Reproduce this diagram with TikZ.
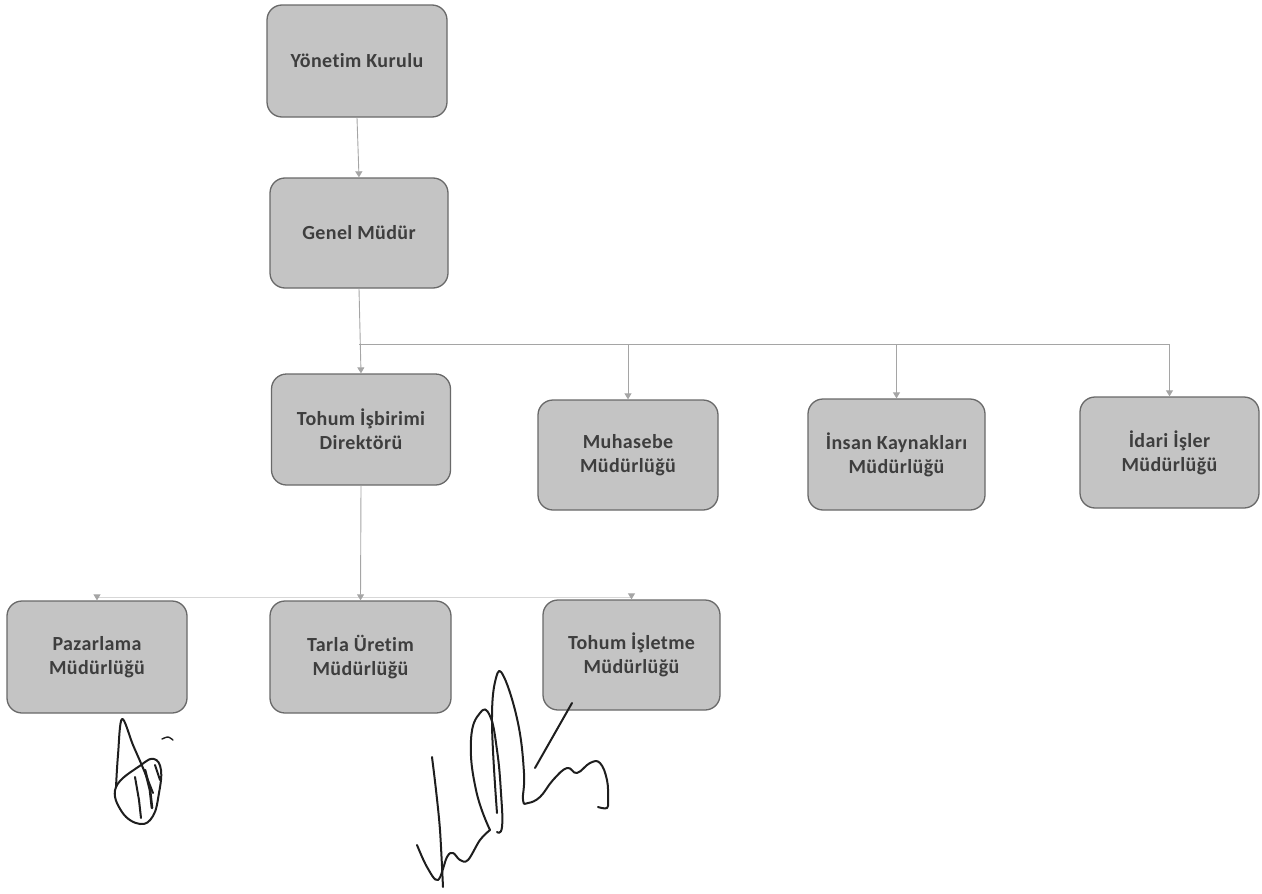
\documentclass[tikz,border=0pt]{standalone}
\usepackage{fontspec}
\setmainfont{Carlito}[Ligatures=NoCommon, LetterSpace=2]
\usetikzlibrary{arrows.meta}
\definecolor{boxfill}{RGB}{196,196,196}
\definecolor{boxdraw}{RGB}{105,105,105}
\definecolor{boxtext}{RGB}{62,62,62}
\definecolor{linecol}{RGB}{165,165,165}
\definecolor{faint}{RGB}{215,215,215}
\definecolor{ink}{RGB}{30,30,30}
\tikzset{
  orgbox/.style={draw=boxdraw, line width=1.3pt, fill=boxfill, rounded corners=15pt,
    minimum width=179pt, minimum height=111pt, inner sep=0pt, align=center,
    text=boxtext, font=\fontsize{20}{24}\selectfont\bfseries},
  conn/.style={draw=linecol, line width=0.9pt},
  arr/.style={conn, -{Triangle[width=7pt,length=6pt,fill=linecol]}},
  faintconn/.style={draw=faint, line width=0.8pt},
  sig/.style={draw=ink, line width=2pt, line cap=round, line join=round}
}
\begin{document}
\begin{tikzpicture}[x=1pt,y=-1pt]
\useasboundingbox (0,0) rectangle (1262,894);
% boxes
\node[orgbox, minimum width=180pt, minimum height=112pt] (yk) at (357,61) {Yönetim Kurulu};
\node[orgbox, minimum width=178pt, minimum height=110pt] (gm) at (359,233) {Genel Müdür};
\node[orgbox, minimum width=179pt, minimum height=111pt] (td) at (361,429.5) {Tohum İşbirimi\\Direktörü};
\node[orgbox, minimum width=180pt, minimum height=110pt] (mh) at (628,455) {Muhasebe\\Müdürlüğü};
\node[orgbox, minimum width=177pt, minimum height=111pt] (ik) at (896.5,454.5) {İnsan Kaynakları\\Müdürlüğü};
\node[orgbox, minimum width=179pt, minimum height=111pt] (ii) at (1169.5,452.5) {İdari İşler\\Müdürlüğü};
\node[orgbox, minimum width=180pt, minimum height=112pt] (pz) at (97,657) {Pazarlama\\Müdürlüğü};
\node[orgbox, minimum width=181pt, minimum height=112pt] (tu) at (360.5,657) {Tarla Üretim\\Müdürlüğü};
\node[orgbox, minimum width=177pt, minimum height=110pt] (ti) at (631.5,655) {Tohum İşletme\\Müdürlüğü};
% first level connectors
\coordinate (bus1) at (360,344);
\draw[arr] (yk.south) -- (gm.north);
\draw[arr] (gm.south) -- (td.north);
\draw[conn] (gm.south |- bus1) -- (ii.north |- bus1);
\draw[arr] (mh.north |- bus1) -- (mh.north);
\draw[arr] (ik.north |- bus1) -- (ik.north);
\draw[arr] (ii.north |- bus1) -- (ii.north);
% second level connectors
\coordinate (bus2) at (361,597);
\draw[faintconn] (pz.north |- bus2) -- (ti.north |- bus2);
\draw[arr] (td.south) -- (tu.north);
\draw[arr] (pz.north |- bus2) -- (pz.north);
\draw[arr] (ti.north |- bus2) -- (ti.north);
% signature 1
\draw[sig] plot[smooth, tension=0.6] coordinates {(116,787) (118,755) (122,719) (133,745) (143,768) (153,793)};
\draw[sig] plot[smooth cycle, tension=0.7] coordinates {(116,787) (122,812) (140,824) (153,816) (159,793) (161,770) (154,759) (141,765)};
\draw[sig] (135,777) -- (139,800) -- (141,818);
\draw[sig, line width=2.6pt] (145,770) -- (150,790) -- (152,808);
\draw[sig] (155,765) -- (160,780);
\draw[sig, line width=1.4pt] plot[smooth] coordinates {(162,739) (168,737) (173,740)};
% signature 2
\draw[sig] plot[smooth] coordinates {(432,757) (436,790) (440,830) (443,887)};
\draw[sig] plot[smooth, tension=0.6] coordinates {(417,845) (427,867) (438,880) (447,857) (453,853) (460,860) (468,860) (480,840) (490,830)};
\draw[sig] plot[smooth, tension=0.8] coordinates {(490,830) (476,790) (471,740) (480,713) (490,716) (497,750) (501,793) (502,827) (497,832)};
\draw[sig] plot[smooth, tension=0.7] coordinates {(497,813) (492,723) (496,678) (504,677) (518,723) (524,773) (523,800) (528,803) (540,797) (553,780) (567,768) (577,773) (590,763) (600,763) (607,780) (608,800) (607,808) (598,807)};
\draw[sig] (535,768) -- (572,703);
\end{tikzpicture}
\end{document}
